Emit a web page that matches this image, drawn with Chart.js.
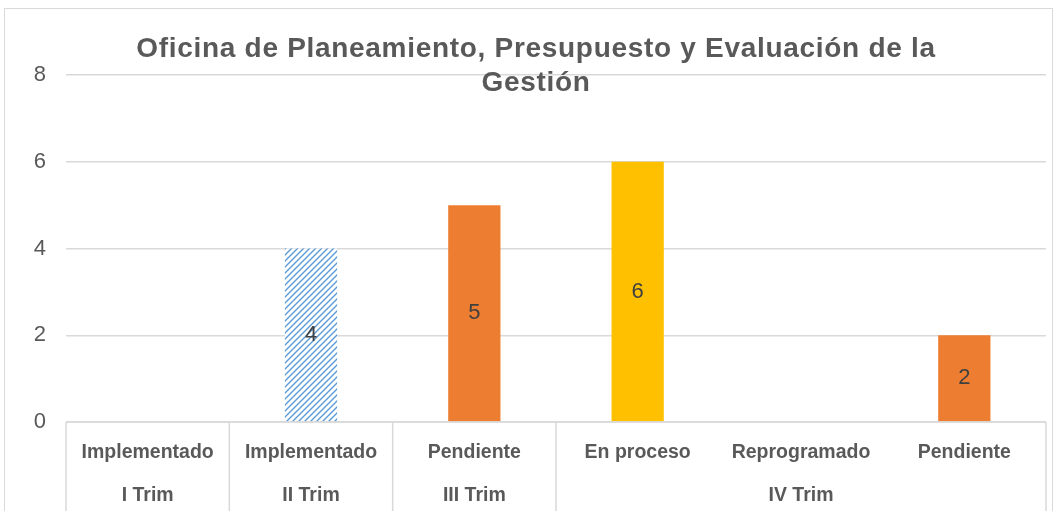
<!DOCTYPE html>
<html>
<head>
<meta charset="utf-8">
<script src="https://cdn.jsdelivr.net/npm/chart.js@4.4.1/dist/chart.umd.min.js"></script>
<style>
  body { margin: 0; background: #fff; }
  #caja { position: absolute; left: 0; top: 0; width: 1058px; height: 511px; }
</style>
</head>
<body>
<div id="caja"><canvas id="graficoOficina"></canvas></div>
<script>
// datos
const titulo = ['Oficina de Planeamiento, Presupuesto y Evaluación de la', 'Gestión']
const categorias = ['Implementado', 'Implementado', 'Pendiente', 'En proceso', 'Reprogramado', 'Pendiente']
const trimestres = ['I Trim', 'II Trim', 'III Trim', 'IV Trim', 'IV Trim', 'IV Trim']
const valores = [0, 4, 5, 6, 0, 2]
const ticksY = [0, 2, 4, 6, 8]

const fuente = "'Liberation Sans', Arial, sans-serif"
const gris = '#595959'
const lineaGris = '#D9D9D9'

function tramado() {
  const c = document.createElement('canvas')
  c.width = 6
  c.height = 6
  const g = c.getContext('2d')
  g.fillStyle = '#fff'
  g.fillRect(0, 0, 6, 6)
  g.strokeStyle = '#5B9BD5'
  g.lineWidth = 1.4
  g.beginPath()
  g.moveTo(-1, 7); g.lineTo(7, -1)
  g.moveTo(-4, 4); g.lineTo(4, -4)
  g.moveTo(2, 10); g.lineTo(10, 2)
  g.stroke()
  return g.createPattern(c, 'repeat')
}

const coloresEstado = {
  'Implementado': tramado(),
  'Pendiente': '#ED7D31',
  'En proceso': '#FFC000',
  'Reprogramado': '#A5A5A5'
}

// etiqueta de dos niveles: el trimestre va en la categoria central de su grupo
function armarEtiquetas() {
  return categorias.map((cat, i) => {
    let ini = i, fin = i
    while (ini > 0 && trimestres[ini - 1] === trimestres[i]) ini--
    while (fin < trimestres.length - 1 && trimestres[fin + 1] === trimestres[i]) fin++
    const medio = Math.floor((ini + fin) / 2)
    return [cat, i === medio ? trimestres[i] : '']
  })
}

const marco = {
  id: 'marco',
  beforeDraw(chart) {
    const ctx = chart.ctx
    ctx.save()
    ctx.strokeStyle = lineaGris
    ctx.lineWidth = 1
    ctx.strokeRect(4.5, 8.5, 1048, 540)
    ctx.restore()
  }
}

const tablaEjeX = {
  id: 'tablaEjeX',
  afterDraw(chart) {
    const ctx = chart.ctx
    const x = chart.scales.x
    const area = chart.chartArea
    const medio = (x.getPixelForValue(1) - x.getPixelForValue(0)) / 2
    ctx.save()
    ctx.strokeStyle = lineaGris
    ctx.lineWidth = 1.5
    ctx.beginPath()
    for (let i = 0; i <= categorias.length; i++) {
      if (i > 0 && i < categorias.length && trimestres[i] === trimestres[i - 1]) continue
      const px = i < categorias.length ? x.getPixelForValue(i) - medio : x.getPixelForValue(i - 1) + medio
      ctx.moveTo(px, area.bottom)
      ctx.lineTo(px, chart.height)
    }
    ctx.moveTo(area.left, area.bottom)
    ctx.lineTo(area.right, area.bottom)
    ctx.stroke()

    // titulo encima de la rejilla
    ctx.fillStyle = gris
    ctx.font = 'bold 28px ' + fuente
    ctx.letterSpacing = '0.7px'
    ctx.textAlign = 'center'
    ctx.textBaseline = 'middle'
    titulo.forEach((t, i) => ctx.fillText(t, 536, 49 + i * 34))
    ctx.restore()
  }
}

const etiquetasDatos = {
  id: 'etiquetasDatos',
  afterDatasetsDraw(chart) {
    const ctx = chart.ctx
    const meta = chart.getDatasetMeta(0)
    ctx.save()
    ctx.fillStyle = '#404040'
    ctx.font = '22px ' + fuente
    ctx.textAlign = 'center'
    ctx.textBaseline = 'middle'
    meta.data.forEach((barra, i) => {
      if (!valores[i]) return
      ctx.fillText(valores[i], barra.x, (barra.y + barra.base) / 2)
    })
    ctx.restore()
  }
}

const graficoOficina = new Chart(document.getElementById('graficoOficina'), {
  type: 'bar',
  data: {
    labels: armarEtiquetas(),
    datasets: [{
      data: valores,
      backgroundColor: categorias.map(c => coloresEstado[c]),
      borderWidth: 0,
      categoryPercentage: 1,
      barPercentage: 0.32
    }]
  },
  options: {
    responsive: true,
    maintainAspectRatio: false,
    animation: false,
    layout: { padding: { left: 0, right: 12, top: 75, bottom: 0 } },
    plugins: {
      legend: { display: false },
      tooltip: { enabled: false },
      title: { display: false }
    },
    scales: {
      x: {
        grid: { display: false },
        border: { display: false },
        afterFit: s => { s.height = 89 },
        ticks: {
          autoSkip: false,
          maxRotation: 0,
          padding: 1,
          color: gris,
          font: { family: fuente, size: 19.5, weight: 'bold', lineHeight: '43px' }
        }
      },
      y: {
        min: 0,
        max: 8,
        afterFit: s => { s.width = 66 },
        afterBuildTicks: s => { s.ticks = ticksY.map(v => ({ value: v })) },
        border: { display: false },
        grid: { color: lineaGris, lineWidth: 1.5, drawTicks: false },
        ticks: {
          padding: 20,
          color: gris,
          font: { family: fuente, size: 22 }
        }
      }
    }
  },
  plugins: [marco, tablaEjeX, etiquetasDatos]
})
</script>
</body>
</html>
